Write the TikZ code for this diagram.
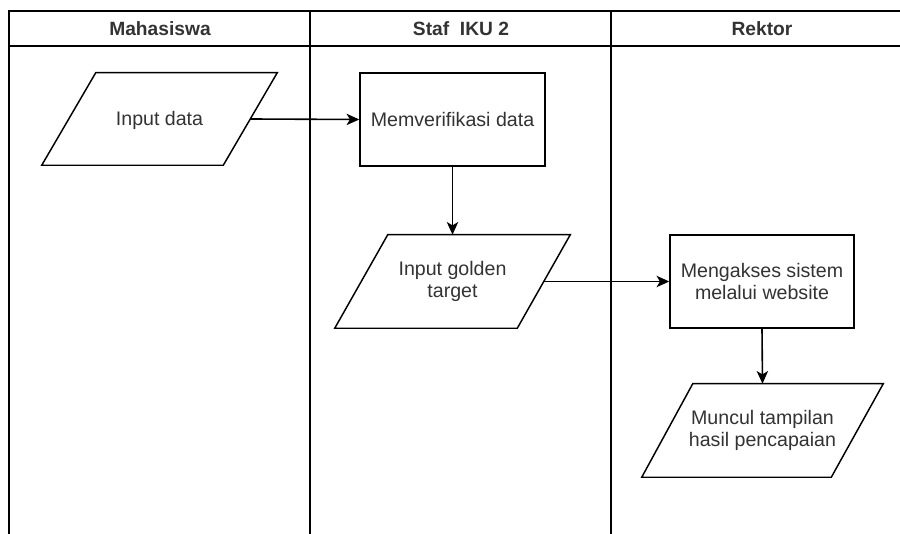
\documentclass[tikz,border=0pt]{standalone}
\usepackage{fontspec}
\setmainfont{Liberation Sans}
\usetikzlibrary{arrows.meta,calc}
\definecolor{txt}{HTML}{333333}
\tikzset{
  lane/.style={line width=1.5pt, draw=black},
  hdr/.style={font=\bfseries\fontsize{14.4pt}{17pt}\selectfont, text=txt, inner sep=0pt},
  lbl/.style={font=\fontsize{14.7pt}{16.8pt}\selectfont, text=txt, align=center, inner sep=0pt},
  procbox/.style={lbl, draw=black, line width=1.1pt, fill=white},
  iobox/.style={lbl},
  shp/.style={draw=black, line width=1.1pt, fill=white},
  arr/.style={line width=1.2pt, -{Stealth[length=9.5pt,width=8.5pt,inset=2.5pt]}}
}
\begin{document}
\begin{tikzpicture}[x=0.75pt,y=-0.75pt]
\useasboundingbox (0,0) rectangle (900,534);
% swimlane frame
\draw[lane] (900,11) -- (9,11) -- (9,534);
\draw[lane] (9,46) -- (900,46);
\draw[lane] (310,11) -- (310,534);
\draw[lane] (611,11) -- (611,534);
\node[hdr] (h1) at (160,29) {Mahasiswa};
\node[hdr] (h2) at (461,29) {Staf\ \ IKU 2};
\node[hdr] (h3) at (762,29) {Rektor};

% Input data (parallelogram)
\node[iobox, minimum width={235*0.75pt}, minimum height={92*0.75pt}] (in) at (159.5,119) {};
\draw[shp] ([xshift={54*0.75pt}]in.north west) -- (in.north east) -- ([xshift={-54*0.75pt}]in.south east) -- (in.south west) -- cycle;
\node[lbl] at ([yshift={-1*0.75pt}]in.center) {Input data};

% Memverifikasi data
\node[procbox, minimum width={185*0.75pt}, minimum height={93*0.75pt}] (ver) at (452.5,119.5) {Memverifikasi data};

% Input golden target
\node[iobox, minimum width={235*0.75pt}, minimum height={93*0.75pt}] (gt) at (452.5,281.5) {};
\draw[shp] ([xshift={53*0.75pt}]gt.north west) -- (gt.north east) -- ([xshift={-53*0.75pt}]gt.south east) -- (gt.south west) -- cycle;
\node[lbl] at (gt.center) {Input golden\\target};

% Mengakses sistem
\node[procbox, minimum width={184*0.75pt}, minimum height={93*0.75pt}] (ak) at (762,281.5) {Mengakses sistem\\melalui website};

% Muncul tampilan
\node[iobox, minimum width={241*0.75pt}, minimum height={93*0.75pt}] (mu) at (762.5,430.5) {};
\draw[shp] ([xshift={51*0.75pt}]mu.north west) -- (mu.north east) -- ([xshift={-52*0.75pt}]mu.south east) -- (mu.south west) -- cycle;
\node[lbl] at (mu.center) {Muncul tampilan\\hasil pencapaian};

% connectors
\draw[arr] ([xshift={-27*0.75pt}]in.east) -- (ver.west);
\draw[arr] (ver.south) -- (gt.north);
\draw[arr] ([xshift={-26.5*0.75pt}]gt.east) -- (ak.west);
\draw[arr] (ak.south) -- (mu.north);
\end{tikzpicture}
\end{document}
